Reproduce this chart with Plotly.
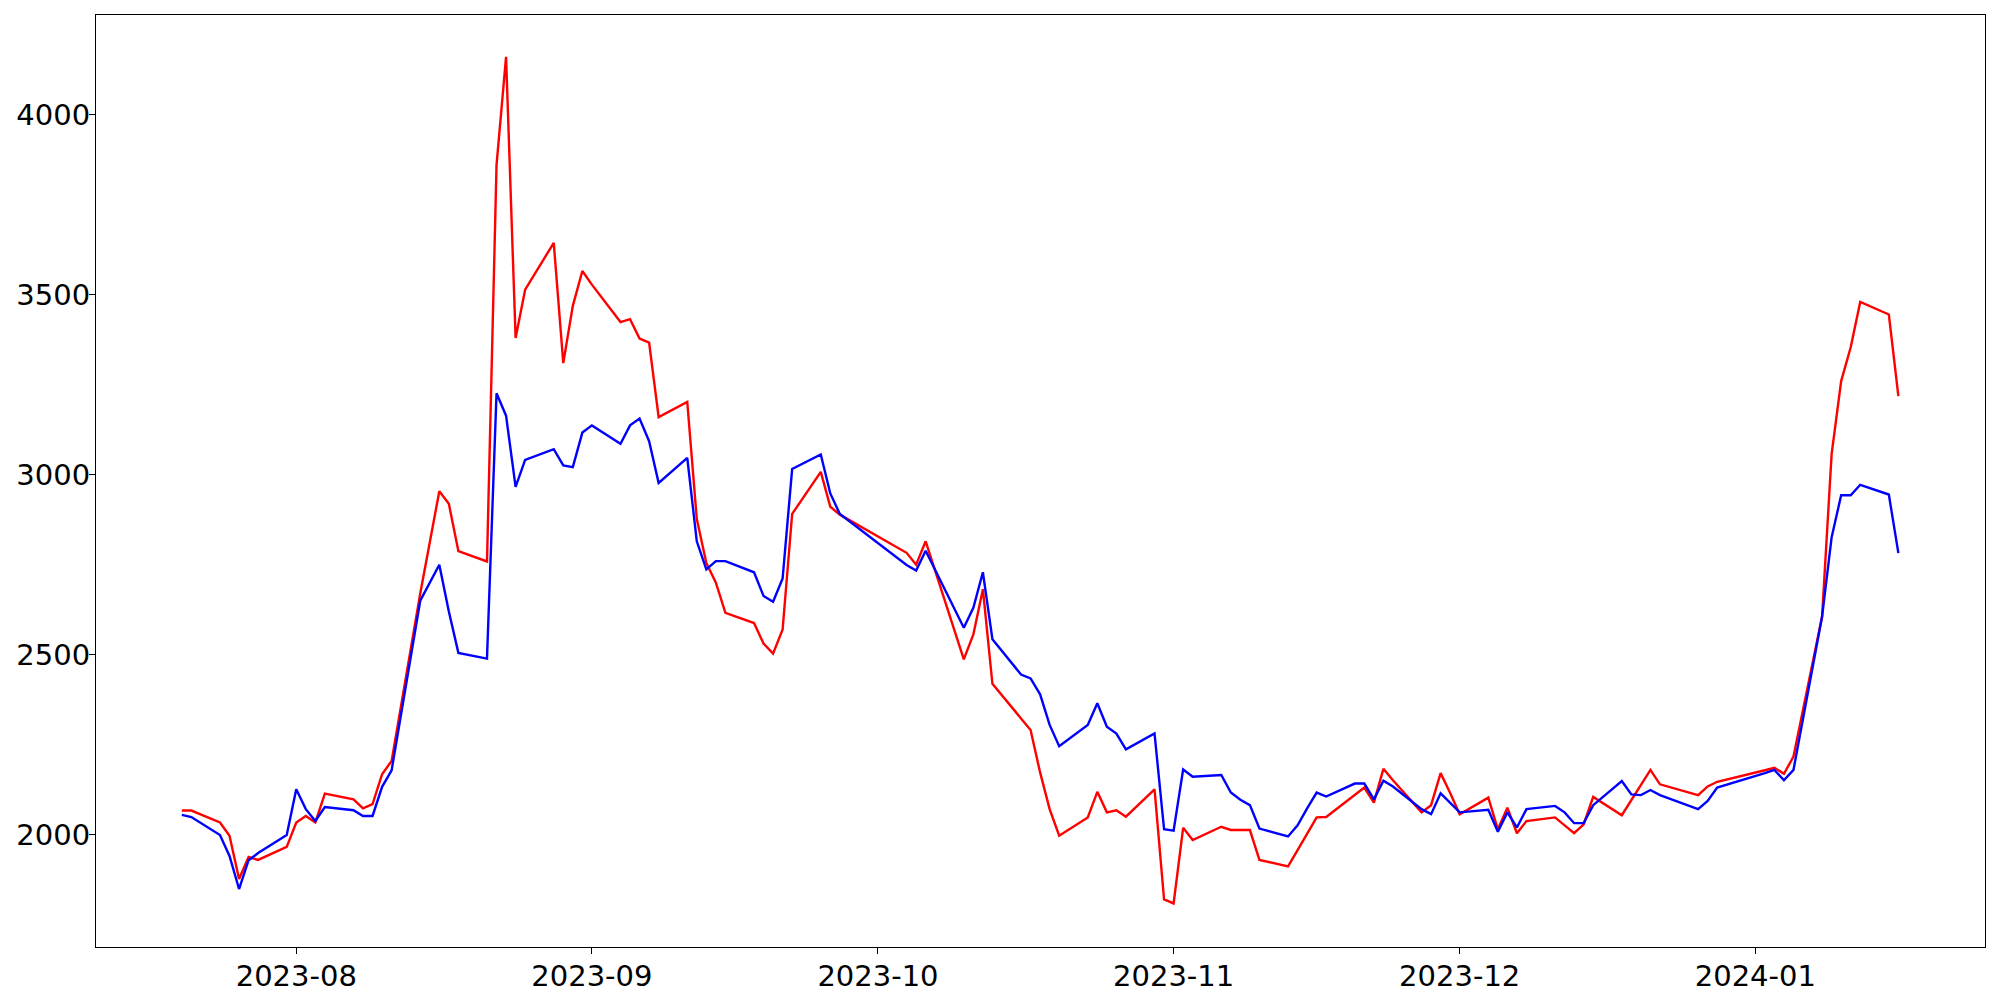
import plotly.graph_objects as go

dates = [
    "2023-07-20", "2023-07-21", "2023-07-24", "2023-07-25", "2023-07-26", "2023-07-27", "2023-07-28", "2023-07-31",
    "2023-08-01", "2023-08-02", "2023-08-03", "2023-08-04", "2023-08-07", "2023-08-08", "2023-08-09", "2023-08-10",
    "2023-08-11", "2023-08-14", "2023-08-16", "2023-08-17", "2023-08-18", "2023-08-21", "2023-08-22", "2023-08-23",
    "2023-08-24", "2023-08-25", "2023-08-28", "2023-08-29", "2023-08-30", "2023-08-31", "2023-09-01",
    "2023-09-04", "2023-09-05", "2023-09-06", "2023-09-07", "2023-09-08", "2023-09-11", "2023-09-12", "2023-09-13",
    "2023-09-14", "2023-09-15", "2023-09-18", "2023-09-19", "2023-09-20", "2023-09-21", "2023-09-22", "2023-09-25",
    "2023-09-26", "2023-09-27", "2023-10-04", "2023-10-05", "2023-10-06", "2023-10-10", "2023-10-11", "2023-10-12",
    "2023-10-13", "2023-10-16", "2023-10-17", "2023-10-18", "2023-10-19", "2023-10-20", "2023-10-23", "2023-10-24",
    "2023-10-25", "2023-10-26", "2023-10-27", "2023-10-30", "2023-10-31", "2023-11-01", "2023-11-02", "2023-11-03",
    "2023-11-06", "2023-11-07", "2023-11-08", "2023-11-09", "2023-11-10", "2023-11-13", "2023-11-14", "2023-11-15",
    "2023-11-16", "2023-11-17", "2023-11-20", "2023-11-21", "2023-11-22", "2023-11-23", "2023-11-24", "2023-11-27",
    "2023-11-28", "2023-11-29", "2023-11-30", "2023-12-01", "2023-12-04", "2023-12-05", "2023-12-06", "2023-12-07",
    "2023-12-08", "2023-12-11", "2023-12-12", "2023-12-13", "2023-12-14", "2023-12-15", "2023-12-18", "2023-12-19",
    "2023-12-20", "2023-12-21", "2023-12-22", "2023-12-26", "2023-12-27", "2023-12-28", "2024-01-02", "2024-01-03",
    "2024-01-04", "2024-01-05", "2024-01-08", "2024-01-09", "2024-01-10", "2024-01-11", "2024-01-12", "2024-01-15",
    "2024-01-16",
]

red_values = [
    2067, 2067, 2034, 1997, 1877, 1938, 1930, 1966,
    2034, 2052, 2034, 2114, 2098, 2073, 2085, 2168,
    2205, 2670, 2954, 2919, 2788, 2759, 3860, 4161,
    3380, 3514, 3644, 3310, 3469, 3566, 3528,
    3424, 3432, 3378, 3367, 3160, 3202, 2877, 2755,
    2700, 2616, 2588, 2531, 2503, 2570, 2891, 3008,
    2911, 2889, 2783, 2750, 2815, 2487, 2556, 2682,
    2419, 2323, 2291, 2173, 2071, 1997, 2048, 2119,
    2062, 2068, 2050, 2126, 1820, 1809, 2019, 1985,
    2022, 2013, 2013, 2013, 1930, 1912, 1957, 2001,
    2048, 2049, 2110, 2131, 2089, 2183, 2151, 2062,
    2082, 2171, 2116, 2057, 2103, 2015, 2075, 2004,
    2038, 2048, 2026, 2004, 2029, 2105, 2054, 2096,
    2136, 2180, 2140, 2110, 2134, 2147, 2179, 2186,
    2169, 2217, 2606, 3057, 3260, 3354, 3480, 3445,
    3218,
]

blue_values = [
    2055, 2049, 1999, 1941, 1849, 1929, 1949, 1999,
    2126, 2071, 2038, 2077, 2068, 2052, 2052, 2133,
    2179, 2650, 2750, 2620, 2505, 2489, 3226, 3164,
    2966, 3041, 3071, 3026, 3021, 3117, 3137,
    3086, 3137, 3156, 3093, 2977, 3047, 2815, 2737,
    2760, 2760, 2729, 2663, 2647, 2712, 3016, 3056,
    2948, 2891, 2749, 2734, 2789, 2575, 2630, 2729,
    2543, 2445, 2434, 2390, 2305, 2246, 2305, 2365,
    2300, 2281, 2237, 2281, 2015, 2011, 2181, 2161,
    2166, 2117, 2097, 2082, 2017, 1995, 2026, 2073,
    2117, 2106, 2142, 2142, 2098, 2150, 2134, 2071,
    2057, 2115, 2089, 2062, 2069, 2008, 2062, 2020,
    2071, 2080, 2062, 2032, 2032, 2082, 2149, 2112,
    2110, 2124, 2110, 2071, 2094, 2131, 2171, 2180,
    2151, 2180, 2606, 2826, 2943, 2943, 2972, 2945,
    2782,
]

x_range = ["2023-07-11", "2024-01-25 02:00"]
y_range = [1688, 4277]
y_ticks = [2000, 2500, 3000, 3500, 4000]

font = dict(family="DejaVu Sans", size=29, color="black")

fig = go.Figure()
fig.add_trace(go.Scatter(x=dates, y=red_values, mode="lines",
                         line=dict(color="#ff0000", width=2.4), showlegend=False))
fig.add_trace(go.Scatter(x=dates, y=blue_values, mode="lines",
                         line=dict(color="#0000ff", width=2.4), showlegend=False))

fig.update_layout(
    width=2000, height=1000,
    margin=dict(l=88, r=23, t=7, b=61, autoexpand=False),
    paper_bgcolor="white", plot_bgcolor="white",
    font=font,
)
fig.update_xaxes(
    type="date", range=x_range, dtick="M1", tick0="2023-08-01", tickformat="%Y-%m",
    showgrid=False, zeroline=False,
    showline=True, linecolor="black", linewidth=1.2, mirror=True,
    ticks="outside", ticklen=6, tickwidth=1.2, tickcolor="black",
    tickfont=font, ticklabelstandoff=-3,
)
fig.update_yaxes(
    range=y_range, tickvals=y_ticks, ticktext=[str(v) for v in y_ticks],
    showgrid=False, zeroline=False,
    showline=True, linecolor="black", linewidth=1.2, mirror=True,
    ticks="outside", ticklen=6, tickwidth=1.2, tickcolor="black",
    tickfont=font, ticklabelstandoff=-7,
)

fig.write_html("out.html")
